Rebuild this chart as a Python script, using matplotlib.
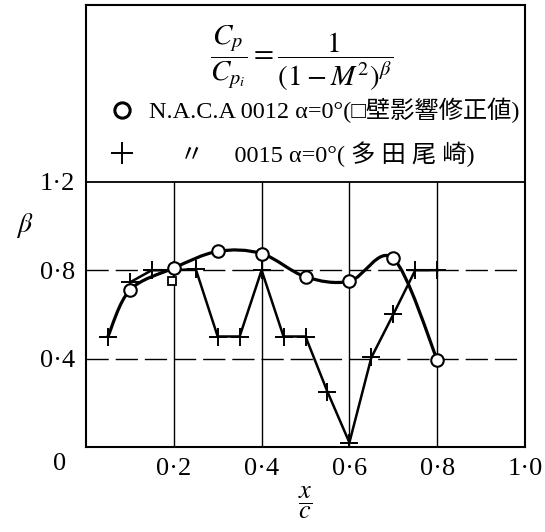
import matplotlib
matplotlib.use('Agg')
import matplotlib.pyplot as plt
from matplotlib.path import Path
from matplotlib.patches import PathPatch
from matplotlib.lines import Line2D
from matplotlib.font_manager import FontProperties
import numpy as np

# N.A.C.A 0012 (circles)
naca12_x = [0.1, 0.2, 0.3, 0.4, 0.5, 0.6, 0.7, 0.8]
naca12_beta = [0.71, 0.81, 0.885, 0.875, 0.77, 0.75, 0.853, 0.395]
# wall-corrected value (square)
corr_x = [0.195]
corr_beta = [0.75]
# N.A.C.A 0015 (crosses)
naca15_x = [0.05, 0.1, 0.15, 0.2, 0.25, 0.3, 0.35, 0.4, 0.45, 0.5, 0.55, 0.6, 0.65, 0.7, 0.75, 0.8]
naca15_beta = [0.5, 0.745, 0.8, 0.8, 0.805, 0.5, 0.5, 0.8, 0.5, 0.5, 0.25, 0.02, 0.405, 0.6, 0.8, 0.8]

xticks = [0.2, 0.4, 0.6, 0.8, 1.0]
xlabels = ['0·2', '0·4', '0·6', '0·8', '1·0']
yticks = [0.4, 0.8, 1.2]
ylabels = ['0·4', '0·8', '1·2']

plt.rcParams['font.family'] = ['Liberation Serif', 'Noto Sans CJK JP']
plt.rcParams['mathtext.fontset'] = 'stix'

fig = plt.figure(figsize=(5.45, 5.32), dpi=100)
ax = fig.add_axes([86 / 545, 85 / 532, 439 / 545, 442 / 532])
ax.set_xlim(0, 1.0)
ax.set_ylim(0, 2.0)

for s in ax.spines.values():
    s.set_linewidth(1.5)

# grid (only below 1.2)
ax.vlines([0.2, 0.4, 0.6, 0.8], 0, 1.2, color='black', lw=1.0)
ax.axhline(1.2, color='black', lw=1.3)
for yv in [0.4, 0.8]:
    ax.axhline(yv, color='black', lw=1.0, dashes=(16, 5))

# smooth curve through the 0012 points, starting from the first 0015 point
px = np.array([naca15_x[0]] + naca12_x)
py = np.array([naca15_beta[0]] + naca12_beta)
pts = np.column_stack([px, py])
ext = np.vstack([pts[0], pts, pts[-1]])
verts = [tuple(pts[0])]
codes = [Path.MOVETO]
for i in range(len(pts) - 1):
    p0, p1, p2, p3 = ext[i], ext[i + 1], ext[i + 2], ext[i + 3]
    c1 = p1 + (p2 - p0) / 6
    c2 = p2 - (p3 - p1) / 6
    verts += [tuple(c1), tuple(c2), tuple(p2)]
    codes += [Path.CURVE4] * 3
ax.add_patch(PathPatch(Path(verts, codes), fill=False, lw=2.3, color='black', zorder=3))

# 0015 line
ax.plot(naca15_x[1:], naca15_beta[1:], color='black', lw=1.8, zorder=3)
ax.plot(naca15_x, naca15_beta, linestyle='none', marker='+', ms=13, mew=1.4,
        color='black', zorder=4)
ax.plot(naca12_x, naca12_beta, linestyle='none', marker='o', ms=9, mew=1.5,
        mfc='white', mec='black', zorder=5)
ax.plot(corr_x, corr_beta, linestyle='none', marker='s', ms=6, mew=1.3,
        mfc='white', mec='black', zorder=5)

ax.set_xticks(xticks)
ax.set_xticklabels(xlabels, fontsize=19)
ax.set_yticks(yticks)
ax.set_yticklabels(ylabels, fontsize=19)
ax.tick_params(length=0, pad=8)
ax.text(-0.06, -0.025, '0', fontsize=19, ha='center', va='top', transform=ax.transData)

ax.set_xlabel(r'$\dfrac{x}{c}$', fontsize=19, labelpad=3)
ax.text(-0.14, 1.0, r'$\beta$', fontsize=20, ha='center', va='center')

# formula and legend
ax.text(0.49, 1.76, r'$\dfrac{C_p}{C_{p_i}} = \dfrac{1}{(1-M^2)^\beta}$',
        fontsize=21, ha='center', va='center')
handles = [
    Line2D([], [], linestyle='none', marker='o', ms=11, mew=2.2, mfc='white', mec='black'),
    Line2D([], [], linestyle='none', marker='+', ms=16, mew=1.4, color='black'),
]
labels = ['N.A.C.A 0012 α=0°(□壁影響修正値)', '     〃     0015 α=0°( 多 田 尾 崎)']
ax.legend(handles, labels, loc='upper left', bbox_to_anchor=(0.0, 0.84),
          frameon=False, handlelength=1.2, handletextpad=0.5, labelspacing=0.75,
          prop=FontProperties(family=['Liberation Serif', 'Noto Sans CJK JP'], size=17.5))

fig.savefig('out.png', dpi=100)
